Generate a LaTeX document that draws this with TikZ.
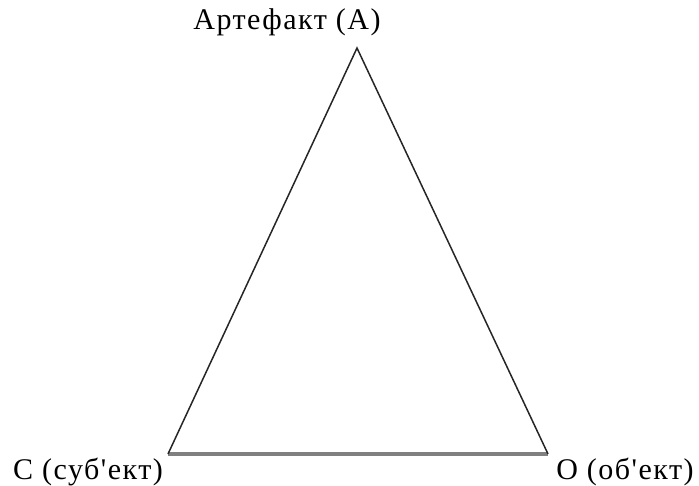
\documentclass[tikz,border=0pt]{standalone}
\usepackage{fontspec}
\setmainfont{Liberation Serif}[Ligatures=TeXOff, LetterSpace=5]
\usetikzlibrary{positioning}
\begin{document}
\begin{tikzpicture}[x=1pt, y=-1pt,
    lbl/.style={font=\fontsize{30}{32}\selectfont, inner sep=0pt, anchor=base},
    edge/.style={draw=black!85, line width=1.5pt},
    basis/.style={draw=black!50, line width=3.5pt}]
    \useasboundingbox (0,0) rectangle (699,486);
    \coordinate (a) at (357,48);
    \coordinate (s) at (168,454);
    \coordinate (o) at (548,454);
    \node[lbl] (la) at (287,30) {Артефакт (А)};
    \node[lbl] (ls) at (88,479) {С (суб'ект)};
    \node[lbl] (lo) at (625,479) {О (об'ект)};
    \draw[basis] (s) -- (o);
    \draw[edge] (s) -- (a) -- (o);
\end{tikzpicture}
\end{document}
